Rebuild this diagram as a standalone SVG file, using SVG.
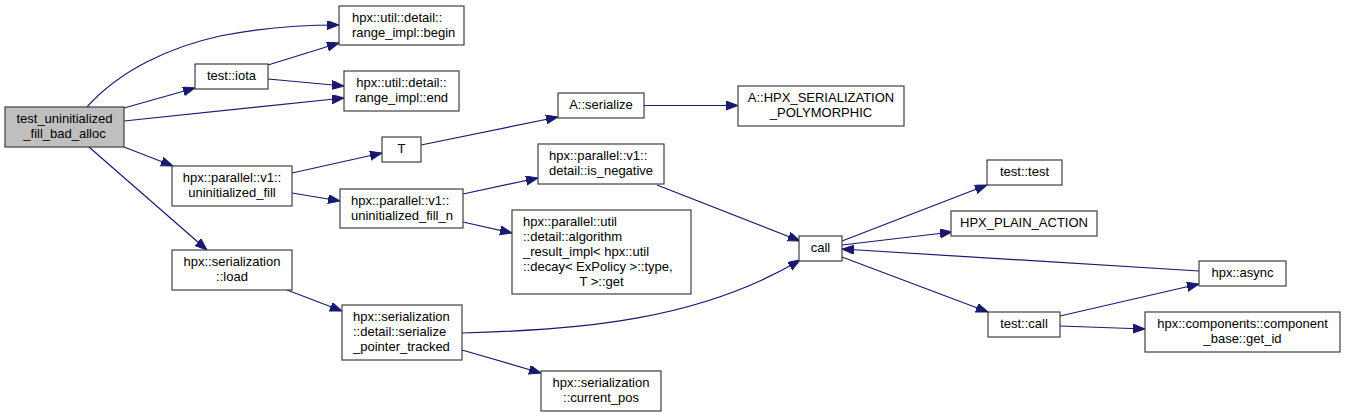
<svg xmlns="http://www.w3.org/2000/svg" width="1345" height="417" viewBox="0 0 1345 417">
<style>
.n rect{fill:#ffffff;stroke:#404040;stroke-width:1.2}
.root rect{fill:#bfbfbf}
text{font-family:"Liberation Sans",Arial,Helvetica,sans-serif;font-size:13px;fill:#000000}
.c{text-anchor:middle}
.l{text-anchor:start}
.e path{fill:none;stroke:#191970;stroke-width:1.2;marker-end:url(#ah)}
</style>
<defs>
<marker id="ah" markerUnits="userSpaceOnUse" markerWidth="14" markerHeight="11" refX="12" refY="4.5" orient="auto">
<path d="M0,0 L12,4.5 L0,9 z" fill="#191970" stroke="#191970" stroke-width="1"/>
</marker>
</defs>
<rect x="0" y="0" width="1345" height="417" fill="#ffffff"/>
<g id="edges" class="e">
<path d="M87,107 C120,70 170,47 220,36 C260,28 300,25 339,25"/>
<path d="M124,108 L195,88"/>
<path d="M124,121 L344,98"/>
<path d="M268,65 L339,43"/>
<path d="M268,79 L344,86"/>
<path d="M124,147 L173,166"/>
<path d="M89,147 L207,250"/>
<path d="M292,173 L382,153"/>
<path d="M292,193 L340,201"/>
<path d="M421,145 L558,117"/>
<path d="M644,105.5 L738,105.5"/>
<path d="M463,194 L538,178"/>
<path d="M463,222 L512,233"/>
<path d="M657,185 L800,241"/>
<path d="M287,290 L342,311"/>
<path d="M462,333 C580,330 700,320 800,260"/>
<path d="M462,350 L541,373"/>
<path d="M842,241 L987,185"/>
<path d="M842,245 L952,232"/>
<path d="M1199,271 L842,249"/>
<path d="M842,257 L988,312"/>
<path d="M1060,316 L1199,284"/>
<path d="M1060,326 L1145,329"/>
</g>
<g id="n_root" class="n root"><rect x="5" y="107" width="119" height="40"/><text class="c" x="64.5" y="123">test_uninitialized</text><text class="c" x="64.5" y="138">_fill_bad_alloc</text></g>
<g id="n_begin" class="n"><rect x="339" y="6" width="125" height="39"/><text class="l" x="352" y="21.5">hpx::util::detail::</text><text class="l" x="352" y="36.5">range_impl::begin</text></g>
<g id="n_iota" class="n"><rect x="195" y="64" width="73" height="25"/><text class="c" x="231.5" y="80">test::iota</text></g>
<g id="n_end" class="n"><rect x="344" y="71" width="115" height="40"/><text class="c" x="401.5" y="87">hpx::util::detail::</text><text class="c" x="401.5" y="102">range_impl::end</text></g>
<g id="n_T" class="n"><rect x="382" y="137" width="39" height="25"/><text class="c" x="401.5" y="153">T</text></g>
<g id="n_ufill" class="n"><rect x="172" y="166" width="120" height="40"/><text class="c" x="232" y="182">hpx::parallel::v1::</text><text class="c" x="232" y="197">uninitialized_fill</text></g>
<g id="n_ufilln" class="n"><rect x="340" y="189" width="123" height="39"/><text class="l" x="351" y="204.5">hpx::parallel::v1::</text><text class="l" x="351" y="219.5">uninitialized_fill_n</text></g>
<g id="n_load" class="n"><rect x="172" y="250" width="120" height="40"/><text class="c" x="232" y="266">hpx::serialization</text><text class="c" x="232" y="281">::load</text></g>
<g id="n_spt" class="n"><rect x="342" y="305" width="120" height="55"/><text class="l" x="353" y="321">hpx::serialization</text><text class="l" x="353" y="336">::detail::serialize</text><text class="l" x="353" y="351">_pointer_tracked</text></g>
<g id="n_aser" class="n"><rect x="558" y="93" width="86" height="25"/><text class="c" x="601" y="109">A::serialize</text></g>
<g id="n_poly" class="n"><rect x="738" y="86" width="166" height="40"/><text class="c" x="821" y="102">A::HPX_SERIALIZATION</text><text class="c" x="821" y="117">_POLYMORPHIC</text></g>
<g id="n_isneg" class="n"><rect x="538" y="144" width="126" height="40"/><text class="l" x="549" y="160">hpx::parallel::v1::</text><text class="l" x="549" y="175">detail::is_negative</text></g>
<g id="n_alg" class="n"><rect x="512" y="210" width="179" height="84"/><text class="l" x="523" y="225.5">hpx::parallel::util</text><text class="l" x="523" y="240.5">::detail::algorithm</text><text class="l" x="523" y="255.5">_result_impl&lt; hpx::util</text><text class="l" x="523" y="270.5">::decay&lt; ExPolicy &gt;::type,</text><text class="c" x="601.5" y="285.5">T &gt;::get</text></g>
<g id="n_curpos" class="n"><rect x="541" y="371" width="120" height="40"/><text class="c" x="601" y="387">hpx::serialization</text><text class="c" x="601" y="402">::current_pos</text></g>
<g id="n_call" class="n"><rect x="799" y="236" width="43" height="25"/><text class="c" x="820.5" y="252">call</text></g>
<g id="n_ttest" class="n"><rect x="987" y="160" width="75" height="25"/><text class="c" x="1024.5" y="176">test::test</text></g>
<g id="n_plain" class="n"><rect x="951" y="211" width="146" height="25"/><text class="c" x="1024" y="227">HPX_PLAIN_ACTION</text></g>
<g id="n_async" class="n"><rect x="1199" y="261" width="87" height="25"/><text class="c" x="1242.5" y="277">hpx::async</text></g>
<g id="n_tcall" class="n"><rect x="988" y="312" width="72" height="25"/><text class="c" x="1024" y="328">test::call</text></g>
<g id="n_getid" class="n"><rect x="1145" y="312" width="195" height="40"/><text class="c" x="1242.5" y="328">hpx::components::component</text><text class="c" x="1242.5" y="343">_base::get_id</text></g>
</svg>
